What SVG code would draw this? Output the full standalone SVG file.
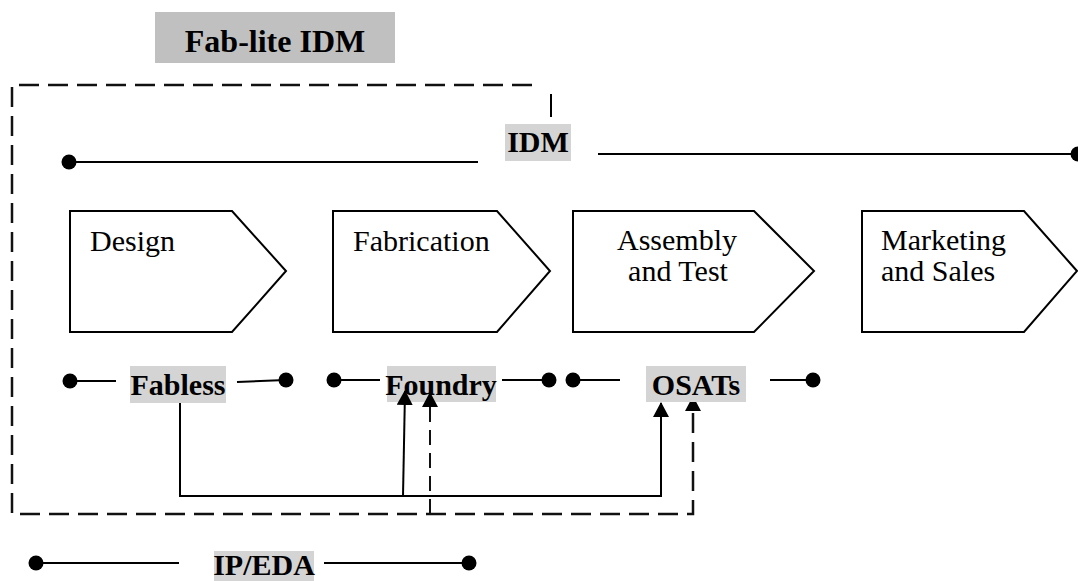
<svg xmlns="http://www.w3.org/2000/svg" width="1078" height="581" viewBox="0 0 1078 581">
<defs>
<marker id="ah" viewBox="0 0 15 16" refX="14" refY="8" markerWidth="15" markerHeight="16" markerUnits="userSpaceOnUse" orient="auto">
<path d="M0,0 L15,8 L0,16 Z" fill="#000"/>
</marker>
<style>
.bg{fill:#fff}
.lbl{fill:#d4d4d4}
.lbl2{fill:#c0c0c0}
.bt{font-family:"Liberation Serif","Times New Roman",serif;font-weight:bold;font-size:30px;fill:#000}
.rt{font-family:"Liberation Serif","Times New Roman",serif;font-size:30px;fill:#000}
.ln{stroke:#000;stroke-width:2;fill:none}
.dl{stroke:#111;stroke-width:2.5;fill:none;stroke-dasharray:20 9}
.dot{fill:#000}
.pent{fill:#fff;stroke:#000;stroke-width:2}
</style>
</defs>
<rect class="bg" x="0" y="0" width="1078" height="581"/>

<g id="fablite-idm">
<rect class="lbl2" x="155" y="12" width="240" height="51"/>
<text class="bt" x="275" y="52" text-anchor="middle" style="font-size:32px">Fab-lite IDM</text>
<path class="dl" d="M532,85 H12 V514 H693 V397" marker-end="url(#ah)"/>
<line class="ln" x1="551" y1="94" x2="551" y2="117"/>
</g>

<g id="idm">
<rect class="lbl" x="505" y="124" width="66" height="37"/>
<text class="bt" x="538" y="152" text-anchor="middle">IDM</text>
<line class="ln" x1="69" y1="162" x2="478" y2="162"/>
<circle class="dot" cx="69" cy="162" r="7.5"/>
<line class="ln" x1="598" y1="154" x2="1078" y2="154"/>
<circle class="dot" cx="1078" cy="154" r="7.5"/>
</g>

<g id="design">
<path class="pent" d="M70,211 H232 L286,271 L232,332 H70 Z"/>
<text class="rt" x="90" y="251">Design</text>
</g>
<g id="fabrication">
<path class="pent" d="M333,211 H497 L550,271 L497,332 H333 Z"/>
<text class="rt" x="353" y="251">Fabrication</text>
</g>
<g id="assembly">
<path class="pent" d="M573,211 H754 L814,271 L754,332 H573 Z"/>
<text class="rt" x="677" y="250" text-anchor="middle">Assembly</text>
<text class="rt" x="678" y="281" text-anchor="middle">and Test</text>
</g>
<g id="marketing">
<path class="pent" d="M862,211 H1024 L1077,271 L1024,332 H862 Z"/>
<text class="rt" x="881" y="250">Marketing</text>
<text class="rt" x="881" y="281">and Sales</text>
</g>

<g id="fabless">
<rect class="lbl" x="130" y="366" width="96" height="37"/>
<text class="bt" x="178" y="395" text-anchor="middle">Fabless</text>
<line class="ln" x1="70" y1="381" x2="116" y2="381"/>
<circle class="dot" cx="70" cy="381" r="7.5"/>
<line class="ln" x1="237" y1="382" x2="286" y2="380"/>
<circle class="dot" cx="286" cy="380" r="7.5"/>
</g>

<g id="foundry">
<rect class="lbl" x="387" y="366" width="109" height="36"/>
<text class="bt" x="441" y="395" text-anchor="middle">Foundry</text>
<line class="ln" x1="334" y1="380" x2="380" y2="380"/>
<circle class="dot" cx="334" cy="380" r="7.5"/>
<line class="ln" x1="502" y1="380" x2="549" y2="380"/>
<circle class="dot" cx="549" cy="380" r="7.5"/>
</g>

<g id="osats">
<rect class="lbl" x="646" y="366" width="100" height="36"/>
<text class="bt" x="696" y="395" text-anchor="middle">OSATs</text>
<circle class="dot" cx="573" cy="380" r="7.5"/>
<line class="ln" x1="573" y1="380" x2="620" y2="380"/>
<line class="ln" x1="770" y1="380" x2="813" y2="380"/>
<circle class="dot" cx="813" cy="380" r="7.5"/>
</g>

<g id="ip-eda">
<rect class="lbl" x="214" y="551" width="100" height="30"/>
<text class="bt" x="264" y="575" text-anchor="middle">IP/EDA</text>
<line class="ln" x1="36" y1="563" x2="179" y2="563"/>
<circle class="dot" cx="36" cy="563" r="7.5"/>
<line class="ln" x1="324" y1="563" x2="469" y2="563"/>
<circle class="dot" cx="469" cy="563" r="7.5"/>
</g>

<g id="connectors">
<path class="ln" d="M180,403 V496 H661 V403" marker-end="url(#ah)"/>
<line class="ln" x1="403" y1="496" x2="405" y2="391" marker-end="url(#ah)"/>
<line class="dl" x1="430" y1="514" x2="430" y2="393" marker-end="url(#ah)" style="stroke-dasharray:15 8;stroke-width:2"/>
</g>
</svg>
